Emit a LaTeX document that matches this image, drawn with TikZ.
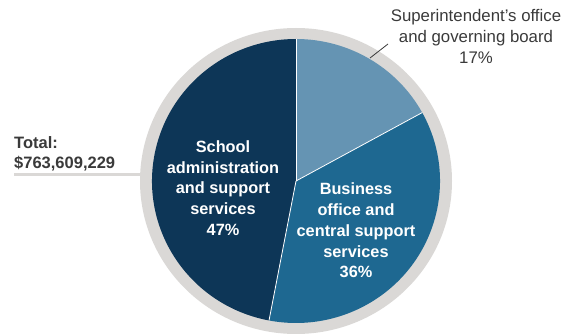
\documentclass[tikz,border=0pt]{standalone}
\usepackage{fontspec}
\setmainfont{Liberation Sans}
\usetikzlibrary{calc}
\definecolor{ringgray}{HTML}{DAD8D6}
\definecolor{lightblue}{HTML}{6594B3}
\definecolor{midblue}{HTML}{1E6891}
\definecolor{navy}{HTML}{0D3657}
\definecolor{txtgray}{HTML}{3A3A3A}
\tikzset{
  slicelabel/.style={text=white, align=center, inner sep=0pt, font=\bfseries\fontsize{16.3}{20.7}\selectfont},
  outlabel/.style={text=txtgray, align=center, inner sep=0pt, font=\fontsize{16.8}{21}\selectfont},
  totallabel/.style={text=txtgray, align=left, inner sep=0pt, anchor=west, font=\bfseries\fontsize{16.5}{20.5}\selectfont},
  divider/.style={draw=white, line width=0.8pt},
  leader/.style={draw=txtgray, line width=0.8pt}
}
\begin{document}
\begin{tikzpicture}[x=1pt,y=1pt]
\useasboundingbox (0,0) rectangle (571,335);
\coordinate (c) at (296,154);
% total underline
\coordinate (u1) at (14,160);
\coordinate (u2) at (160,160);
\draw[ringgray, line width=3pt] (u1) -- (u2);
% ring
\fill[ringgray] (c) ellipse[x radius=156, y radius=153];
% slices
\fill[lightblue] (c) -- ($(c)+(90:144 and 142)$) arc[start angle=90, end angle=28.8, x radius=144, y radius=142] -- cycle;
\fill[midblue] (c) -- ($(c)+(28.8:144 and 142)$) arc[start angle=28.8, end angle=-100.8, x radius=144, y radius=142] -- cycle;
\fill[navy] (c) -- ($(c)+(-100.8:144 and 142)$) arc[start angle=-100.8, end angle=-270, x radius=144, y radius=142] -- cycle;
% dividers
\coordinate (d1) at ($(c)+(90:144 and 142)$);
\coordinate (d2) at ($(c)+(28.8:144 and 142)$);
\coordinate (d3) at ($(c)+(-100.8:144 and 142)$);
\draw[divider] (c) -- (d1);
\draw[divider] (c) -- (d2);
\draw[divider] (c) -- (d3);
% labels
\node[slicelabel] (school) at (223,147) {School\\administration\\and support\\services\\47\%};
\node[slicelabel] (business) at (356,104.5) {Business\\office and\\central support\\services\\36\%};
\node[outlabel] (super) at (476,298.5) {Superintendent’s office\\and governing board\\17\%};
\node[totallabel] (total) at (14,181) {Total:\\\$763,609,229};
% leader
\coordinate (l1) at (370,277);
\coordinate (l2) at (388,291);
\draw[leader] (l1) -- (l2);
\end{tikzpicture}
\end{document}
